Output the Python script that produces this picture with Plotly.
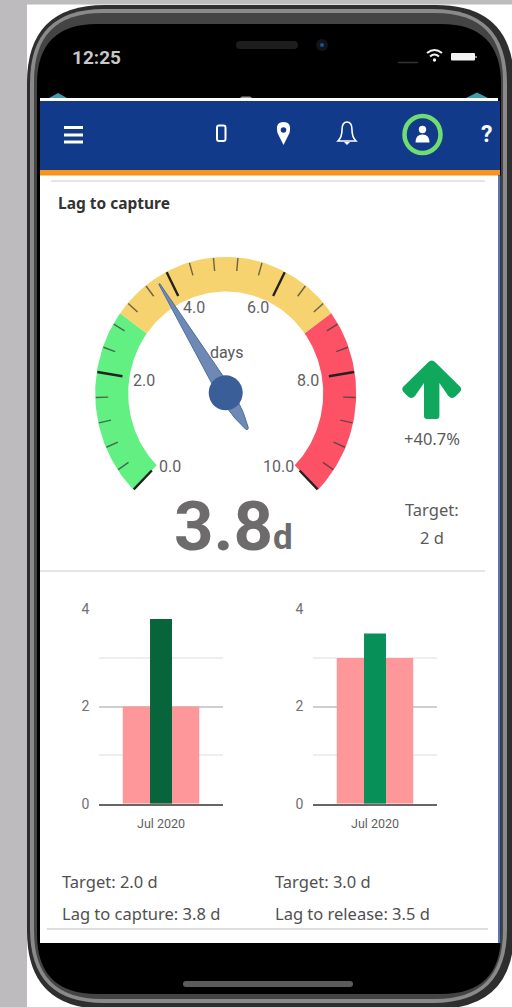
import math
import plotly.graph_objects as go

# ---- data ----
gauge_min, gauge_max = 0.0, 10.0
gauge_value = 3.8
zone_edges = [0, 3, 7, 10]
zone_colors = ["#62f083", "#f6d36e", "#fd5265"]
major_ticks = [0, 2, 4, 6, 8, 10]
minor_ticks = [0.4, 0.8, 1.2, 1.6, 2.4, 2.8, 3.2, 3.6, 4.4, 4.8, 5.2, 5.6,
               6.4, 6.8, 7.2, 7.6, 8.4, 8.8, 9.2, 9.6]
tick_labels = ["0.0", "2.0", "4.0", "6.0", "8.0", "10.0"]
label_nudges = [(3, 12), (0, 1), (6, -9), (-5, -9), (0, 1), (-6, 12)]
month = ["Jul 2020"]
target_capture = [2.0]
lag_capture = [3.8]
target_release = [3.0]
lag_release = [3.5]

FONT = "Roboto"
UI = "Noto Sans"
W, H = 512, 1007

# gauge geometry
CX, CY, RX, SY = 225.7, 393.3, 130.5, 1.045
RI = 97.5


def gpt(v, r):
    a = math.radians(225 - 27 * v)
    return CX + r * math.cos(a), CY - r * SY * math.sin(a)


def round_rect(x0, y0, x1, y1, r):
    return (f"M{x0 + r},{y0} L{x1 - r},{y0} Q{x1},{y0} {x1},{y0 + r} L{x1},{y1 - r} "
            f"Q{x1},{y1} {x1 - r},{y1} L{x0 + r},{y1} Q{x0},{y1} {x0},{y1 - r} "
            f"L{x0},{y0 + r} Q{x0},{y0} {x0 + r},{y0} Z")


shapes = []


def rect(x0, y0, x1, y1, color):
    shapes.append(dict(type="rect", xref="x", yref="y", x0=x0, y0=y0, x1=x1, y1=y1,
                       fillcolor=color, line_width=0, layer="below"))


def path(d, fill=None, line=None, width=0, layer="below"):
    shapes.append(dict(type="path", xref="x", yref="y", path=d, fillcolor=fill or "rgba(0,0,0,0)",
                       line=dict(color=line or "rgba(0,0,0,0)", width=width), layer=layer))


def circle(cx, cy, rx, ry, fill=None, line=None, width=0, layer="below"):
    shapes.append(dict(type="circle", xref="x", yref="y", x0=cx - rx, x1=cx + rx, y0=cy - ry, y1=cy + ry,
                       fillcolor=fill or "rgba(0,0,0,0)",
                       line=dict(color=line or "rgba(0,0,0,0)", width=width), layer=layer))


def hline(x0, x1, y, color, width):
    shapes.append(dict(type="line", xref="x", yref="y", x0=x0, x1=x1, y0=y, y1=y,
                       line=dict(color=color, width=width), layer="below"))


# page and phone frame
rect(0, 0, W, H, "#ffffff")
rect(0, 0, 27, H, "#bdbbbd")
rect(0, 0, W, 4.5, "#bdbbbd")
path(round_rect(27, 5, 514, 1009, 78), "#2e2e2e")
path(round_rect(30, 9, 507, 1003, 74), "#8a8a8a")
path(round_rect(34, 13, 503, 999, 68), "#444444")
path(round_rect(37, 24, 501, 994, 60), "#000000")
# screen
rect(40, 98, 498, 943, "#ffffff")
rect(40, 101, 500, 170, "#123a8a")
rect(40, 170, 500, 175.5, "#f7941d")
rect(498, 175.5, 500.5, 943, "#5a74b4")
hline(51, 485, 181, "#dcdcdc", 1.5)
hline(40, 485, 571, "#dcdcdc", 1.5)
hline(47, 488, 929, "#d4d4d4", 1.5)
# notch, status bar, home bar
path(round_rect(236, 41, 298, 49, 4), "#1d1d1d")
circle(322, 45, 6, 6, "#101418")
circle(322, 45, 2, 2, "#1b4f9a")
path(round_rect(451, 53, 475, 60.5, 1), "#f2f2f2")
hline(475, 477, 57, "#888888", 2)
path("M427,53 Q434.5,47 442,53", None, "#f2f2f2", 2)
path("M430,56.5 Q434.5,52.5 439,56.5", None, "#f2f2f2", 2)
circle(434.5, 60, 1.7, 1.7, "#f2f2f2")
hline(398, 418, 62.5, "#333333", 1.5)
path(round_rect(183, 981, 353, 987, 3), "#5c5c5c")
path("M49,98 L58,93 L67,98 Z", "#3f9db0")
path("M466,98 L477,92.5 L488,98 Z", "#3f9db0")
path("M240,98 L242,96.5 L250,96.5 L252,98 Z", "#9a9a9a")
# navigation icons
for y in (127.5, 135, 142):
    hline(64, 83, y, "#ffffff", 3)
path(round_rect(217, 125.5, 225.5, 141, 2), None, "#ffffff", 2)
path("M283.5,145 L277.5,133 Q275,122 283.5,122 Q292,122 289.5,133 Z", "#ffffff")
circle(283.5, 130, 2.8, 2.8, "#123a8a")
path("M338,141 Q342,137 342,130 Q342,122 347,122 Q352,122 352,130 Q352,137 356,141 Z", None, "#ffffff", 1.6)
path("M344,142 L350,142 L347,145 Z", "#ffffff")
circle(422.5, 134.5, 18, 18.5, None, "#71dd71", 4.5)
circle(422.5, 129.5, 3.7, 3.7, "#ffffff")
path("M415.5,142.5 Q415.5,134.5 422.5,134.5 Q429.5,134.5 429.5,142.5 Z", "#ffffff")
# trend arrow
path("M431.7,360.5 Q433.5,360.5 435,362 L459.9,386.5 Q462.4,389 459.9,392 L455.4,396.5 Q451.9,399.5 448.4,396 L439.4,383 "
     "L439.4,416 Q439.4,419 436.4,419 L427,419 Q424,419 424,416 L424,383 L415,396 Q411.5,399.5 408,396.5 "
     "L403.5,392 Q401,389 403.5,386.5 L428.5,362 Q430,360.5 431.7,360.5 Z", "#0fa85c")

fig = go.Figure()

# gauge zones
for i, col in enumerate(zone_colors):
    a, b = zone_edges[i], zone_edges[i + 1]
    n = 60
    vs = [a + (b - a) * k / n for k in range(n + 1)]
    outer = [gpt(v, RX) for v in vs]
    inner = [gpt(v, RI) for v in reversed(vs)]
    pts = outer + inner + [outer[0]]
    fig.add_trace(go.Scatter(x=[p[0] for p in pts], y=[p[1] for p in pts], mode="lines", fill="toself",
                             fillcolor=col, line=dict(width=0, color=col), hoverinfo="skip",
                             showlegend=False, xaxis="x", yaxis="y"))

# gauge ticks
for v in minor_ticks:
    p, q = gpt(v, RX - 0.5), gpt(v, RX - 13)
    fig.add_trace(go.Scatter(x=[p[0], q[0]], y=[p[1], q[1]], mode="lines",
                             line=dict(color="rgba(60,60,60,0.75)", width=1.4),
                             hoverinfo="skip", showlegend=False))
for v in major_ticks:
    p, q = gpt(v, RX - 0.5), gpt(v, RX - 26)
    fig.add_trace(go.Scatter(x=[p[0], q[0]], y=[p[1], q[1]], mode="lines",
                             line=dict(color="#222222", width=2.4),
                             hoverinfo="skip", showlegend=False))

# needle
a = math.radians(225 - 27 * gauge_value)
ux, uy = math.cos(a), math.sin(a)
nx, ny = -uy, ux


def npt(r, w):
    return CX + r * ux + w * nx, CY - (r * uy + w * ny) * SY


needle = [npt(124, 0.6), npt(0, 7.5), npt(-25, 5), npt(-40, 1.4), npt(-41, 0), npt(-40, -1.4),
          npt(-25, -5), npt(0, -7.5), npt(124, -0.6), npt(124, 0.6)]
fig.add_trace(go.Scatter(x=[p[0] for p in needle], y=[p[1] for p in needle], mode="lines", fill="toself",
                         fillcolor="#6f89b5", line=dict(color="#4d6ea5", width=1),
                         hoverinfo="skip", showlegend=False))
circle(CX, CY - 0.5, 17, 17.5, "#3a5e98", layer="above")

# bars
AXES = [("x2", "y2", "xaxis2", "yaxis2", 99.3, 222.7, target_capture, lag_capture, "#08643a"),
        ("x3", "y3", "xaxis3", "yaxis3", 313.3, 436.7, target_release, lag_release, "#079058")]
layout_axes = {}
for xa, ya, xk, yk, x0, x1, tgt, lag, col in AXES:
    fig.add_trace(go.Bar(x=month, y=tgt, width=0.62, marker=dict(color="#fe9799", line_width=0),
                         xaxis=xa, yaxis=ya, showlegend=False, hoverinfo="skip"))
    fig.add_trace(go.Bar(x=month, y=lag, width=0.178, marker=dict(color=col, line_width=0),
                         xaxis=xa, yaxis=ya, showlegend=False, hoverinfo="skip"))
    layout_axes[xk] = dict(domain=[x0 / W, x1 / W], anchor=ya, type="category", range=[-0.5, 0.5],
                           showgrid=False, showline=True, linecolor="#666666", linewidth=2,
                           ticks="", ticklabelstandoff=7, tickfont=dict(family=FONT, size=12.5, color="#5f5f5f"),
                           fixedrange=True, zeroline=False)
    layout_axes[yk] = dict(domain=[1 - 803.7 / H, 1 - 609.3 / H], anchor=xa, range=[0, 4], dtick=2,
                           showgrid=True, gridcolor="#cfcfcf", gridwidth=1.5, zeroline=False,
                           showline=False, ticks="", ticklabelstandoff=9,
                           minor=dict(dtick=1, showgrid=True, gridcolor="#eeeeee", gridwidth=1.5),
                           tickfont=dict(family=FONT, size=14, color="#707070"), fixedrange=True)

# texts
ann = []


def text(x, y, s, size, color, family=UI, xanchor="center", bold=False):
    ann.append(dict(x=x, y=y, xref="x", yref="y", text=f"<b>{s}</b>" if bold else s, showarrow=False,
                    xanchor=xanchor, yanchor="middle", font=dict(family=family, size=size, color=color)))


text(96, 57, "12:25", 19, "#c8c8c8", FONT, bold=True)
text(486, 134, "?", 23, "#ffffff", FONT, bold=True)
text(56, 203, "Lag to capture", 15.5, "#333333", UI, "left", True)
text(432, 438, "+40.7%", 16.5, "#5a5a5a", UI)
text(432, 509, "Target:", 16.5, "#5a5a5a", UI)
text(432, 537, "2 d", 16.5, "#5a5a5a", UI)
text(60, 881, "Target: 2.0 d", 16.5, "#505050", UI, "left")
text(60, 913, "Lag to capture: 3.8 d", 16.5, "#505050", UI, "left")
text(273, 881, "Target: 3.0 d", 16.5, "#505050", UI, "left")
text(273, 913, "Lag to release: 3.5 d", 16.5, "#505050", UI, "left")
text(226.7, 352.7, "days", 16, "#5a5a5a", FONT)
for v, s, (dx, dy) in zip(major_ticks, tick_labels, label_nudges):
    px, py = gpt(v, 83)
    text(px + dx, py + dy, s, 16, "#5f5f5f", FONT)
text(223.5, 526, f"{gauge_value}", 69, "#6e6b6c", FONT, bold=True)
text(283, 537, "d", 35, "#6e6b6c", FONT, bold=True)

fig.update_layout(
    width=W, height=H, margin=dict(l=0, r=0, t=0, b=0, pad=0, autoexpand=False), autosize=False,
    paper_bgcolor="#ffffff", plot_bgcolor="rgba(0,0,0,0)", barmode="overlay", showlegend=False,
    xaxis=dict(domain=[0, 1], range=[0, W], visible=False, fixedrange=True),
    yaxis=dict(domain=[0, 1], range=[H, 0], visible=False, fixedrange=True),
    shapes=shapes, annotations=ann, hovermode=False, **layout_axes,
)
fig.write_html("out.html", config=dict(displayModeBar=False),
               post_script="document.body.style.margin='0';document.documentElement.style.overflow='hidden';")
